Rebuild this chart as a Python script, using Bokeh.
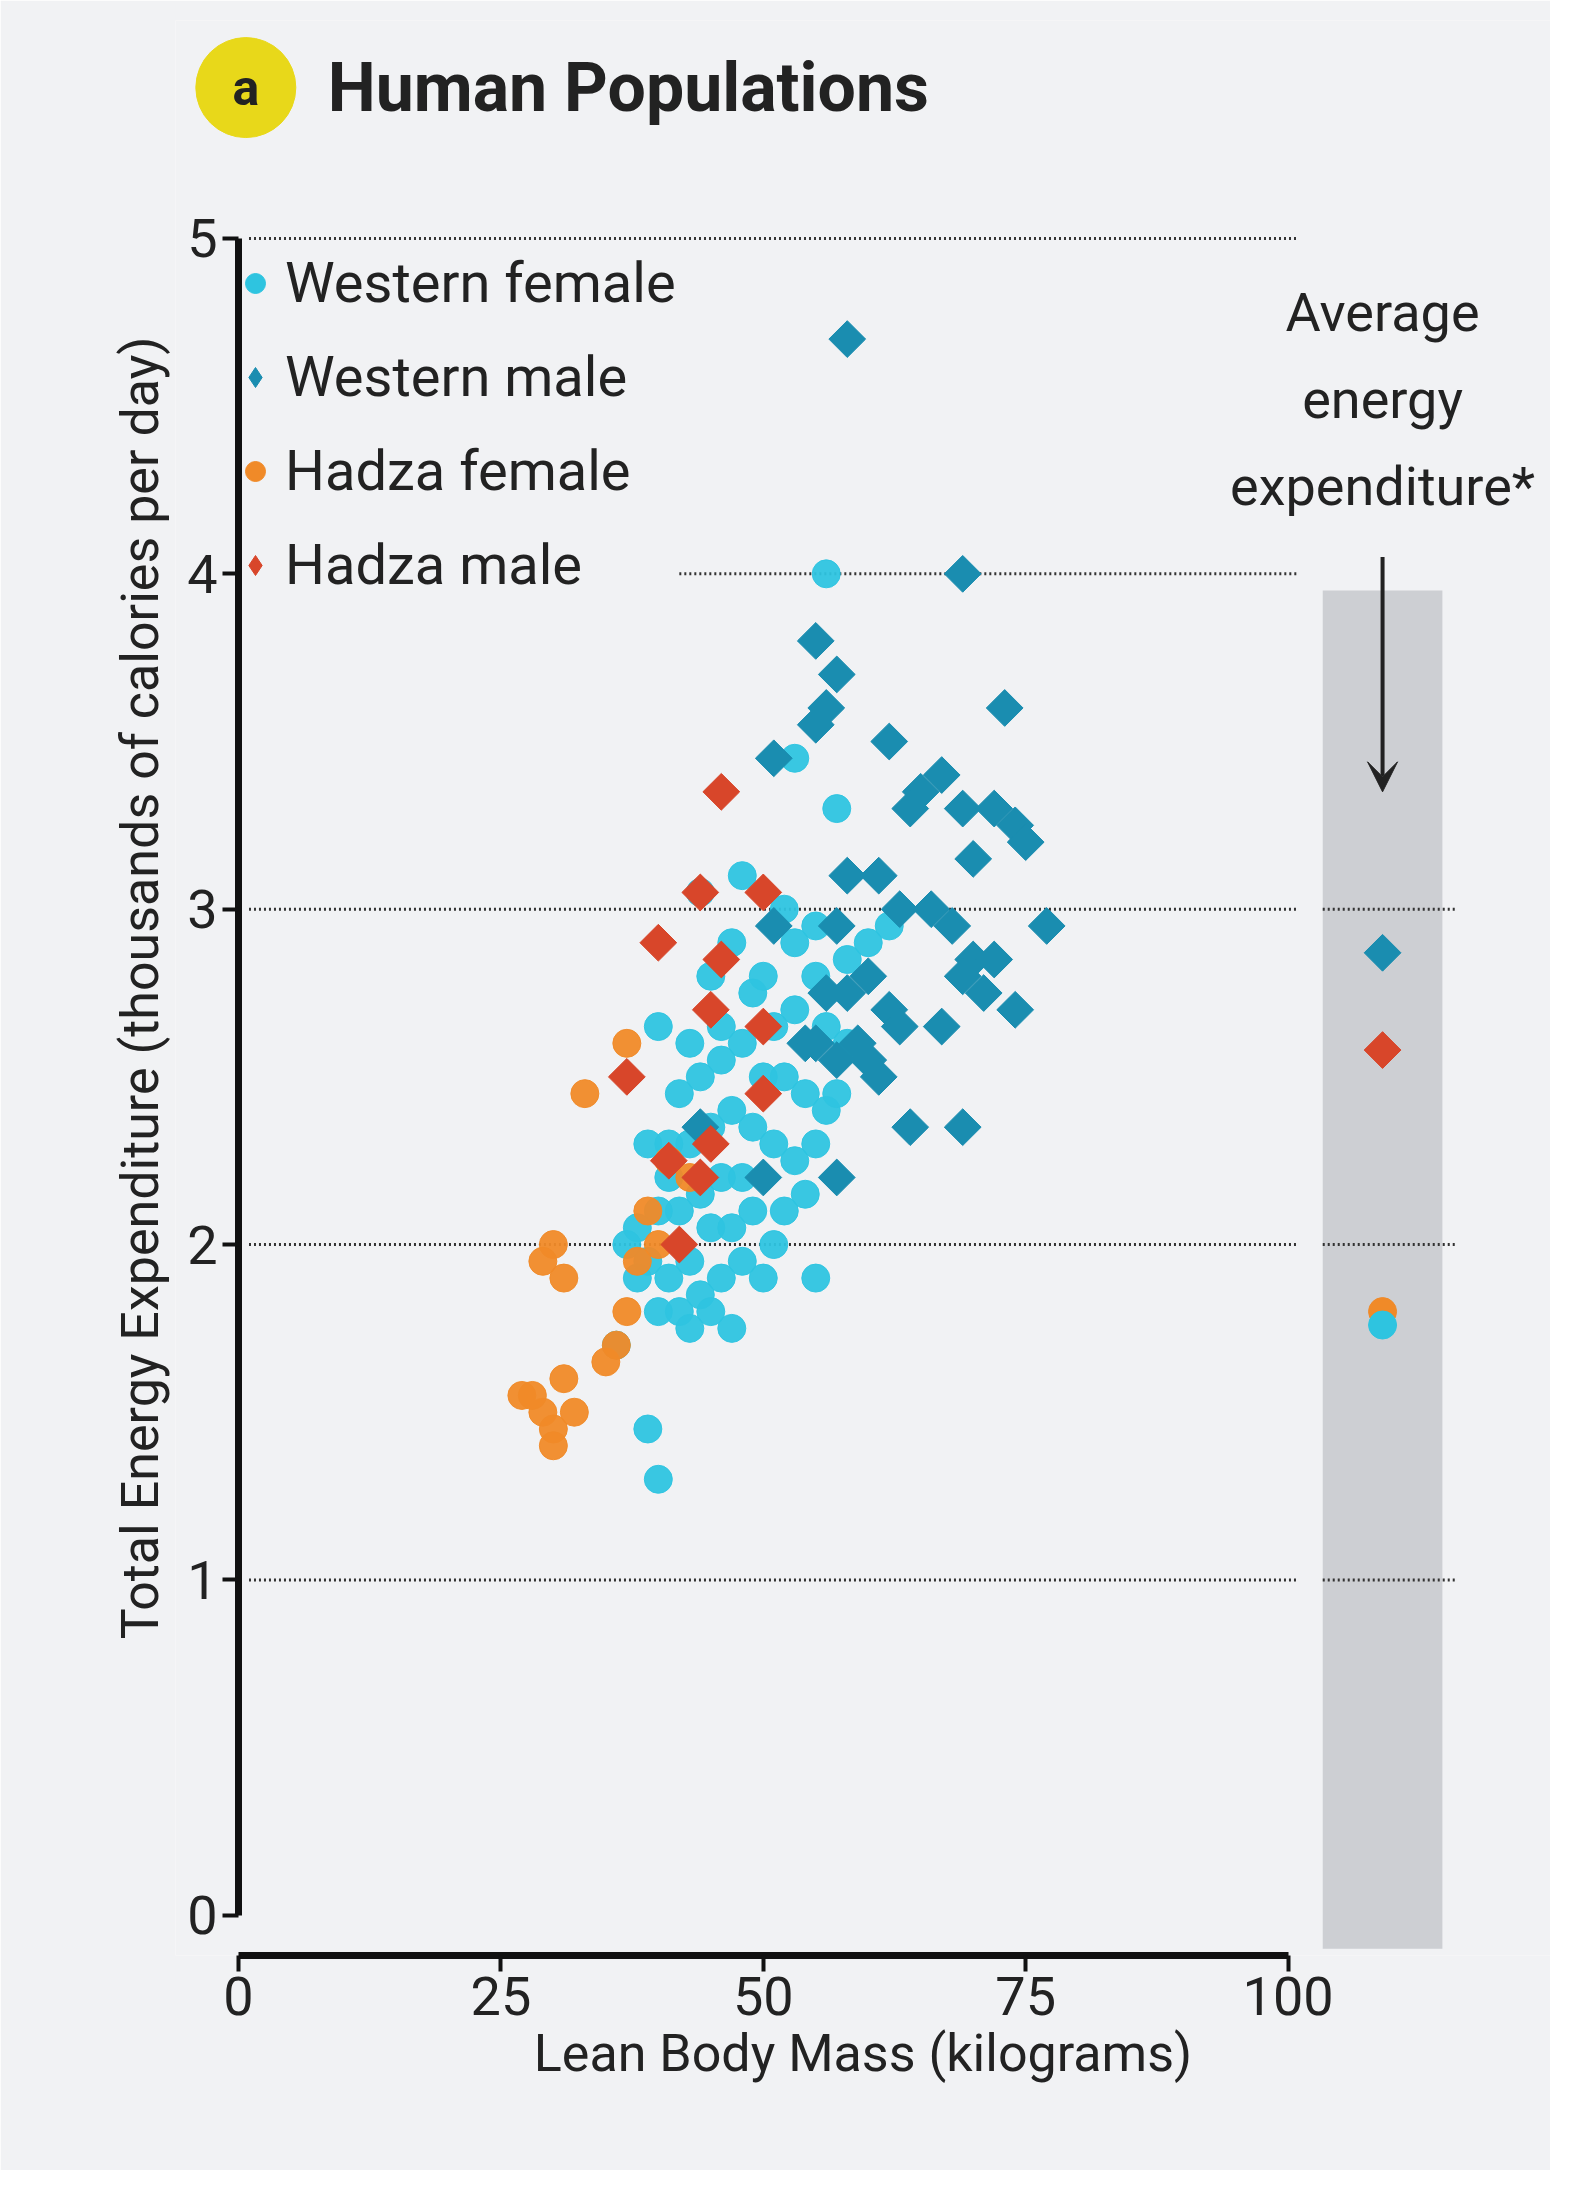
from bokeh.plotting import figure
from bokeh.models import FixedTicker, Legend, LegendItem, Arrow, VeeHead, LinearAxis
from bokeh.core.properties import value
from bokeh.embed import file_html
from bokeh.resources import INLINE

# Western female (circles)
wf_x = [56, 53, 57, 44, 48, 52, 55, 60, 62, 58, 47, 45, 49, 53, 55, 51, 48, 46, 44, 50, 52, 54, 56, 47,
        45, 43, 41, 39, 40, 42, 49, 51, 53, 55, 48, 46, 44, 42, 40, 38, 37, 39, 41, 43, 45, 47, 49, 51,
        50, 48, 46, 44, 42, 40, 43, 45, 38, 36, 39, 40, 55, 52, 54, 57, 58, 50, 53, 46, 43, 41, 47, 56]
wf_y = [4.0, 3.45, 3.3, 3.05, 3.1, 3.0, 2.95, 2.9, 2.95, 2.85, 2.9, 2.8, 2.75, 2.7, 2.8, 2.65, 2.6, 2.55,
        2.5, 2.5, 2.5, 2.45, 2.4, 2.4, 2.35, 2.3, 2.3, 2.3, 2.65, 2.45, 2.35, 2.3, 2.25, 2.3, 2.2, 2.2,
        2.15, 2.1, 2.1, 2.05, 2.0, 1.95, 1.9, 1.95, 2.05, 2.05, 2.1, 2.0, 1.9, 1.95, 1.9, 1.85, 1.8, 1.8,
        1.75, 1.8, 1.9, 1.7, 1.45, 1.3, 1.9, 2.1, 2.15, 2.45, 2.6, 2.8, 2.9, 2.65, 2.6, 2.2, 1.75, 2.65]

# Western male (diamonds)
wm_x = [58, 69, 55, 57, 56, 55, 73, 51, 62, 65, 67, 69, 72, 74, 75, 70, 64, 58, 61, 63, 66, 68, 77, 57,
        51, 70, 72, 69, 71, 74, 60, 58, 56, 62, 63, 67, 54, 57, 60, 61, 44, 64, 69, 57, 50, 55, 59]
wm_y = [4.7, 4.0, 3.8, 3.7, 3.6, 3.55, 3.6, 3.45, 3.5, 3.35, 3.4, 3.3, 3.3, 3.25, 3.2, 3.15, 3.3, 3.1,
        3.1, 3.0, 3.0, 2.95, 2.95, 2.95, 2.95, 2.85, 2.85, 2.8, 2.75, 2.7, 2.8, 2.75, 2.75, 2.7, 2.65,
        2.65, 2.6, 2.55, 2.55, 2.5, 2.35, 2.35, 2.35, 2.2, 2.2, 2.6, 2.6]

# Hadza female (circles)
hf_x = [33, 37, 39, 41, 43, 30, 29, 31, 40, 37, 35, 36, 27, 29, 30, 31, 32, 30, 28, 38]
hf_y = [2.45, 2.6, 2.1, 2.25, 2.2, 2.0, 1.95, 1.9, 2.0, 1.8, 1.65, 1.7, 1.55, 1.5, 1.45, 1.6, 1.5, 1.4,
        1.55, 1.95]

# Hadza male (diamonds)
hm_x = [46, 44, 50, 40, 46, 45, 50, 37, 50, 41, 45, 42, 44]
hm_y = [3.35, 3.05, 3.05, 2.9, 2.85, 2.7, 2.65, 2.5, 2.45, 2.25, 2.3, 2.0, 2.2]

# averages shown in side panel
avg_x = 109
avg_wm, avg_hm, avg_hf, avg_wf = 2.87, 2.58, 1.8, 1.76

grid_levels = [1, 2, 3, 4, 5]
grid_starts = [1, 1, 1, 42, 1]

C_WF, C_WM, C_HF, C_HM = "#2ec4e0", "#1a8db0", "#f08a28", "#d8462a"
FONT = "Roboto"
INK = "#222222"

p = figure(width=1550, height=2170, x_range=(-6, 125), y_range=(-0.12, 5.65),
           output_backend="svg", toolbar_location=None,
           min_border_left=175, min_border_right=0, min_border_top=20, min_border_bottom=215)
p.background_fill_color = "#f1f2f4"
p.border_fill_color = "#f1f2f4"
p.outline_line_color = None
p.grid.grid_line_color = None

# axes
p.xaxis.ticker = FixedTicker(ticks=[0, 25, 50, 75, 100])
p.yaxis.ticker = FixedTicker(ticks=[0, 1, 2, 3, 4, 5])
p.xaxis.bounds = (0, 100)
p.yaxis.bounds = (0, 5)
p.yaxis.fixed_location = 0
for ax in (p.xaxis, p.yaxis):
    ax.axis_line_width = 7
    ax.axis_line_color = "#111111"
    ax.major_tick_line_width = 4
    ax.major_tick_line_color = "#111111"
    ax.major_tick_out = 16
    ax.major_tick_in = 0
    ax.minor_tick_line_color = None
    ax.major_label_text_font = FONT
    ax.major_label_text_font_size = "54px"
    ax.major_label_text_color = INK
    ax.axis_label_text_font = FONT
    ax.axis_label_text_font_size = "52px"
    ax.axis_label_text_font_style = "normal"
    ax.axis_label_text_color = INK
p.xaxis.axis_label = "Lean Body Mass (kilograms)"

# separate axis carrying only the y title
ytitle = LinearAxis(axis_label="Total Energy Expenditure (thousands of calories per day)",
                    axis_label_text_font=FONT, axis_label_text_font_size="52px",
                    axis_label_text_font_style="normal", axis_label_text_color=INK,
                    axis_line_color=None, major_tick_line_color=None, minor_tick_line_color=None,
                    major_label_text_color=None, major_label_text_font_size="10px",
                    ticker=FixedTicker(ticks=[]))
p.add_layout(ytitle, "left")

# dotted reference lines
p.segment(x0=grid_starts, x1=[101] * 5, y0=grid_levels, y1=grid_levels,
          line_color="#333333", line_dash="2 3", line_width=3)

# side panel
p.quad(left=[103.3], right=[114.7], bottom=[-0.1], top=[3.95],
       fill_color="#c4c5ca", fill_alpha=0.8, line_color=None)
p.segment(x0=[103.3] * 3, x1=[116] * 3, y0=grid_levels[:3], y1=grid_levels[:3],
          line_color="#333333", line_dash="2 3", line_width=3)
p.add_layout(Arrow(end=VeeHead(size=30, fill_color=INK, line_color=INK),
                   x_start=avg_x, y_start=4.05, x_end=avg_x, y_end=3.35,
                   line_width=4, line_color=INK))
p.text(x=[avg_x] * 3, y=[4.78, 4.52, 4.26], text=["Average", "energy", "expenditure*"],
       text_font=value(FONT), text_font_size="54px", text_align="center",
       text_baseline="middle", text_color=INK)

# data
p.scatter(wf_x, wf_y, marker="circle", size=28, color=C_WF, alpha=0.95)
p.scatter(hf_x, hf_y, marker="circle", size=28, color=C_HF, alpha=0.95)
p.scatter(wm_x, wm_y, marker="square", angle=0.785, size=26, color=C_WM)
p.scatter(hm_x, hm_y, marker="square", angle=0.785, size=26, color=C_HM)

p.scatter([avg_x], [avg_wm], marker="square", angle=0.785, size=26, color=C_WM)
p.scatter([avg_x], [avg_hm], marker="square", angle=0.785, size=26, color=C_HM)
p.scatter([avg_x], [avg_hf], marker="circle", size=28, color=C_HF)
p.scatter([avg_x], [avg_wf], marker="circle", size=28, color=C_WF)

# off-range renderers used only for legend swatches
l_wf = p.scatter(x=[-100], y=[-100], marker="circle", size=26, color=C_WF)
l_wm = p.scatter(x=[-100], y=[-100], marker="diamond", size=32, color=C_WM)
l_hf = p.scatter(x=[-100], y=[-100], marker="circle", size=26, color=C_HF)
l_hm = p.scatter(x=[-100], y=[-100], marker="diamond", size=32, color=C_HM)

legend = Legend(items=[LegendItem(label="Western female", renderers=[l_wf]),
                       LegendItem(label="Western male", renderers=[l_wm]),
                       LegendItem(label="Hadza female", renderers=[l_hf]),
                       LegendItem(label="Hadza male", renderers=[l_hm])],
                location=(55, 1350), background_fill_alpha=0, border_line_color=None,
                label_text_font=FONT, label_text_font_size="56px", label_text_color=INK,
                glyph_width=50, glyph_height=50, label_height=80, spacing=14,
                margin=0, padding=0)
p.add_layout(legend)

# title
p.scatter([0.7], [5.45], marker="circle", size=100, color="#e8d81a")
p.text(x=[0.7], y=[5.45], text=["a"], text_font=value(FONT), text_font_size="50px",
       text_font_style="bold", text_align="center", text_baseline="middle", text_color=INK)
p.text(x=[8.5], y=[5.45], text=["Human Populations"], text_font=value(FONT),
       text_font_size="68px", text_font_style="bold", text_baseline="middle", text_color=INK)

open("out.html", "w").write(file_html(p, INLINE))
